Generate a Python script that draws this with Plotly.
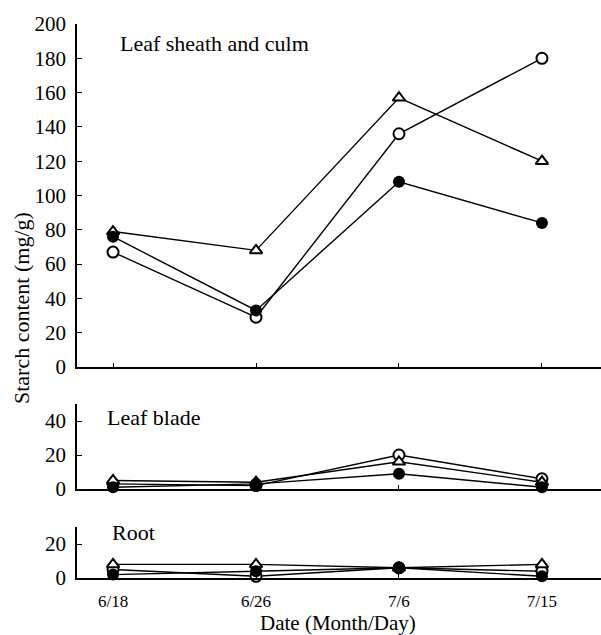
import plotly.graph_objects as go

dates = ["6/18", "6/26", "7/6", "7/15"]

# Leaf sheath and culm (mg/g)
sheath_open_circle = [67, 29, 136, 180]
sheath_triangle = [79, 68, 157, 120]
sheath_filled = [76, 33, 108, 84]

# Leaf blade (mg/g)
blade_open_circle = [3, 2, 20, 6]
blade_triangle = [5, 4, 16, 4]
blade_filled = [1, 3, 9, 1]

# Root (mg/g)
root_open_circle = [5, 1, 6, 4]
root_triangle = [8, 8, 6, 8]
root_filled = [2, 4, 6, 1]

panel_labels = ["Leaf sheath and culm", "Leaf blade", "Root"]
top_ticks = [0, 20, 40, 60, 80, 100, 120, 140, 160, 180, 200]
blade_ticks = [0, 20, 40]
root_ticks = [0, 20]

FONT = "Liberation Serif, Times New Roman, serif"

W, H = 601, 635
ML, MR, MT, MB = 77, 0, 24, 57
PW = W - ML - MR
PH = H - MT - MB


def px_x(p):
    return (p - ML) / PW


def px_y(p):
    return (H - MB - p) / PH


styles = [
    ("open circle", dict(symbol="circle", size=11, color="white", line=dict(color="black", width=2))),
    ("open triangle", dict(symbol="triangle-up", size=11, color="white", line=dict(color="black", width=2))),
    ("filled circle", dict(symbol="circle", size=12, color="black", line=dict(color="black", width=0))),
]

panels = [
    ("x", "y", [sheath_open_circle, sheath_triangle, sheath_filled]),
    ("x2", "y2", [blade_open_circle, blade_triangle, blade_filled]),
    ("x3", "y3", [root_open_circle, root_triangle, root_filled]),
]

fig = go.Figure()
for xa, ya, series in panels:
    for (name, mk), vals in zip(styles, series):
        fig.add_trace(go.Scatter(
            x=dates, y=vals, mode="lines+markers", name=name,
            xaxis=xa, yaxis=ya, cliponaxis=False, showlegend=False,
            line=dict(color="black", width=1.4), marker=mk,
        ))

xr = [-0.252, 3.413]
common_x = dict(
    type="category", range=xr, showline=True, linecolor="black", linewidth=1.6,
    ticks="inside", ticklen=4, tickwidth=1, tickcolor="black", showgrid=False,
    zeroline=False,
)
common_y = dict(
    showline=True, linecolor="black", linewidth=1.6, ticks="inside", ticklen=5,
    tickwidth=1, tickcolor="black", showgrid=False, zeroline=False,
    tickfont=dict(family=FONT, size=21, color="black"), ticklabelstandoff=5,
)

dom_top = [px_y(367), 1]
dom_blade = [px_y(489), px_y(404)]
dom_root = [0, px_y(527)]

fig.update_layout(
    width=W, height=H,
    margin=dict(l=ML, r=MR, t=MT, b=MB, pad=0),
    paper_bgcolor="white", plot_bgcolor="white",
    font=dict(family=FONT, color="black"),
    xaxis=dict(common_x, anchor="y", showticklabels=False),
    xaxis2=dict(common_x, anchor="y2", showticklabels=False),
    xaxis3=dict(common_x, anchor="y3", showticklabels=True,
                tickfont=dict(family=FONT, size=17, color="black"),
                ticklabelstandoff=7),
    yaxis=dict(common_y, domain=dom_top, range=[0, 200], tickvals=top_ticks, anchor="x"),
    yaxis2=dict(common_y, domain=dom_blade, range=[0, 50], tickvals=blade_ticks, anchor="x2"),
    yaxis3=dict(common_y, domain=dom_root, range=[0, 30], tickvals=root_ticks, anchor="x3"),
)

label_pos = [(118, 44), (105, 417), (110, 532)]
for text, (lx, ly) in zip(panel_labels, label_pos):
    fig.add_annotation(text=text, xref="paper", yref="paper", x=px_x(lx), y=px_y(ly),
                       xanchor="left", yanchor="middle", showarrow=False,
                       font=dict(family=FONT, size=22, color="black"))

fig.add_annotation(text="Starch content (mg/g)", xref="paper", yref="paper",
                   x=px_x(21), y=px_y(308), textangle=-90, xanchor="center", yanchor="middle",
                   showarrow=False, font=dict(family=FONT, size=22, color="black"))
fig.add_annotation(text="Date (Month/Day)", xref="paper", yref="paper",
                   x=px_x(338), y=px_y(623), xanchor="center", yanchor="middle",
                   showarrow=False, font=dict(family=FONT, size=21, color="black"))

fig.write_html("out.html")
